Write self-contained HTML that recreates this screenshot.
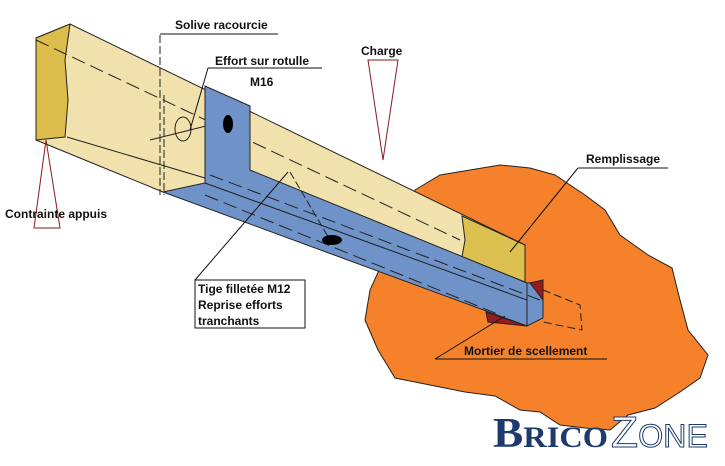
<!DOCTYPE html>
<html><head><meta charset="utf-8"><style>
html,body{margin:0;padding:0;background:#fff;}
svg{display:block;}
text{font-family:"Liberation Sans",sans-serif;font-weight:bold;font-size:12px;fill:#111;}
</style></head><body>
<svg width="725" height="466" viewBox="0 0 725 466" xmlns="http://www.w3.org/2000/svg">
<path d="M415,190 L440,175 L470,170 L500,165 L530,168 L555,175 L585,195 L605,210 L620,235 L648,255 L672,268 L680,300 L688,330 L708,355 L700,378 L680,392 L655,408 L628,415 L610,430 L585,428 L560,425 L540,412 L520,410 L495,396 L465,392 L430,385 L395,378 L378,350 L365,320 L370,290 L380,268 L400,250 L412,225 Z" fill="#f5812a" stroke="#222" stroke-width="1"/>
<polygon points="36,38 70,24 525,245 525,282 163,192 36,140" fill="#f1e1ad" stroke="#222" stroke-width="1"/>
<polygon points="36,38 70,24 65,60 68,100 65,137 36,140" fill="#dcbc4a" stroke="#222" stroke-width="1"/>
<polygon points="462,216 525,245 525,282 462,257 465,240" fill="#dcc050" stroke="#222" stroke-width="1"/>
<line x1="67" y1="137" x2="205" y2="178" stroke="#222"/>
<line x1="36" y1="40" x2="460" y2="240" stroke="#222" stroke-dasharray="14,6"/>
<line x1="160" y1="35" x2="160" y2="195" stroke="#222" stroke-dasharray="8,3"/>
<line x1="164" y1="95" x2="164" y2="195" stroke="#222" stroke-dasharray="8,3"/>
<ellipse cx="183" cy="129" rx="8" ry="12" fill="none" stroke="#222"/>
<line x1="150" y1="140" x2="230" y2="120" stroke="#222"/>
<polygon points="163,192 205,183 205,86 250,106 250,170 527,283 543,282 543,318 527,326" fill="#6f93c8" stroke="#222" stroke-width="1"/>
<line x1="205" y1="183" x2="527" y2="300" stroke="#222"/>
<line x1="210" y1="175" x2="540" y2="300" stroke="#222" stroke-dasharray="14,6"/>
<line x1="205" y1="195" x2="500" y2="315" stroke="#222" stroke-dasharray="14,6"/>
<line x1="527" y1="283" x2="527" y2="326" stroke="#222"/>
<line x1="290" y1="172" x2="330" y2="240" stroke="#222" stroke-dasharray="8,3"/>
<ellipse cx="228" cy="124" rx="5" ry="9" fill="#000"/>
<ellipse cx="332" cy="240" rx="10" ry="5" fill="#000"/>
<polyline points="543,290 580,305 582,330 543,322" fill="none" stroke="#222" stroke-dasharray="8,4"/>
<polygon points="486,312 527,326 488,322" fill="#9a1b1b" stroke="#222"/>
<polygon points="530,283 543,280 543,300" fill="#9a1b1b" stroke="#222"/>
<polygon points="368,60 398,60 383,160" fill="none" stroke="#8b1a1a"/>
<polygon points="46,140 34,228 60,228" fill="none" stroke="#8b1a1a"/>
<text x="175" y="29">Solive racourcie</text>
<line x1="160" y1="34" x2="278" y2="34" stroke="#111"/>
<text x="215" y="65">Effort sur rotulle</text>
<line x1="208" y1="68" x2="322" y2="68" stroke="#111"/>
<line x1="208" y1="68" x2="190" y2="130" stroke="#111"/>
<text x="250" y="86">M16</text>
<text x="361" y="55">Charge</text>
<text x="5" y="218">Contrainte appuis</text>
<text x="586" y="163">Remplissage</text>
<line x1="578" y1="168" x2="668" y2="168" stroke="#111"/>
<line x1="578" y1="168" x2="510" y2="252" stroke="#111"/>
<rect x="195" y="280" width="110" height="48" fill="#fff" stroke="#111"/>
<line x1="195" y1="280" x2="288" y2="172" stroke="#111"/>
<text x="198" y="293">Tige filletée M12</text>
<text x="198" y="309">Reprise efforts</text>
<text x="198" y="325">tranchants</text>
<text x="464" y="355">Mortier de scellement</text>
<line x1="435" y1="359" x2="607" y2="359" stroke="#111"/>
<line x1="435" y1="359" x2="505" y2="316" stroke="#111"/>
<text x="493" y="447" textLength="115" lengthAdjust="spacingAndGlyphs" style="font-family:'Liberation Serif',serif;font-size:42px;fill:#1c3a6e;font-weight:bold">B<tspan style="font-size:30px">RICO</tspan></text>
<text x="611" y="447" textLength="97" lengthAdjust="spacingAndGlyphs" style="font-family:'Liberation Sans',sans-serif;font-size:44px;fill:#fff;stroke:#1c3a6e;stroke-width:1;font-weight:normal">Z<tspan style="font-size:32px">ONE</tspan></text>
</svg>
</body></html>
